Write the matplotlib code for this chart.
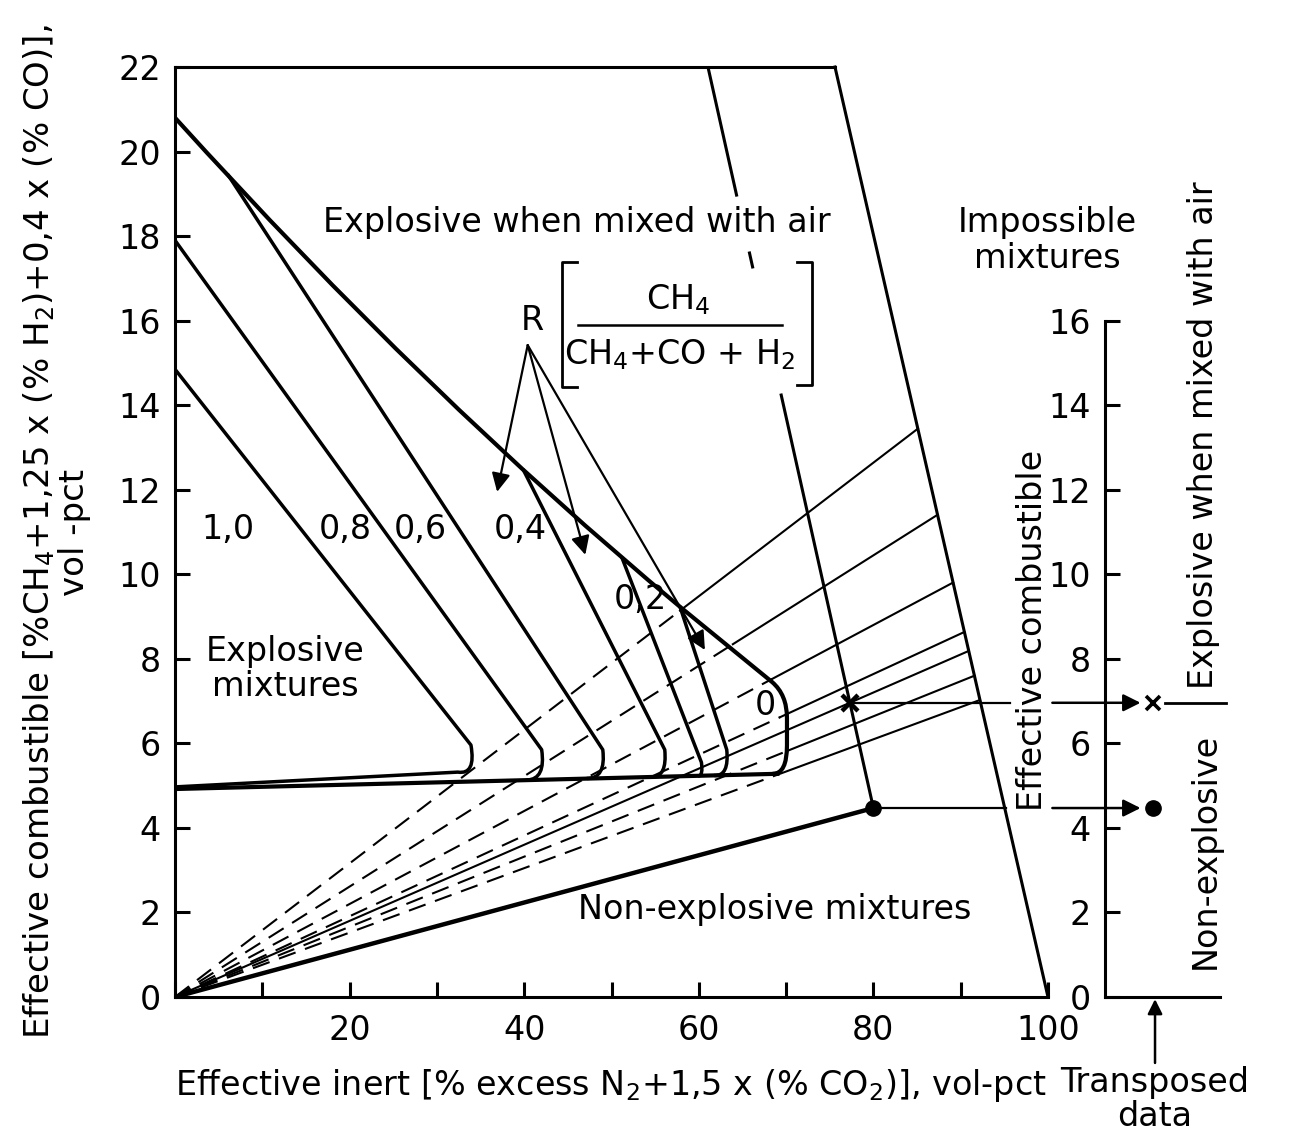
import matplotlib

matplotlib.use("Agg")
import matplotlib.pyplot as plt  # noqa: E402
import numpy as np  # noqa: E402
from matplotlib.patches import PathPatch  # noqa: E402
from matplotlib.path import Path  # noqa: E402

plt.rcParams["font.family"] = ["DejaVu Sans"]
plt.rcParams["mathtext.fontset"] = "dejavusans"

# --- limit curves for R = CH4 / (CH4 + CO + H2) --------------------------
# codes: M move, L line, Q quadratic (control, end) for the rounded knees
LOWER_LIMIT_X = [0.0, 69.0]
LOWER_LIMIT_Y = [4.92, 5.28]

CURVE_R10 = [(0.0, 14.85), (33.9, 5.96), (34.5, 5.25), (32.4, 5.32), (0.0, 4.97)]
CODES_R10 = "MLQQL"
CURVE_R08 = [(0.0, 17.9), (42.0, 5.85), (42.5, 5.15), (40.3, 5.13)]
CURVE_R06 = [(6.07, 19.45), (49.0, 5.85), (49.4, 5.17), (47.2, 5.17)]
CURVE_R04 = [(39.9, 12.47), (56.1, 5.85), (56.4, 5.2), (54.6, 5.2)]
CURVE_R03 = [(51.2, 10.39), (60.3, 5.55), (60.5, 5.24), (60.0, 5.23)]
CURVE_R02 = [(57.85, 9.23), (63.2, 5.85), (63.5, 5.22), (61.8, 5.24)]
CODES_PLAIN = "MLQQ"
CURVE_R00 = [(0.0, 20.8), (28.9, 14.2), (57.85, 9.23), (68.4, 7.45),
             (70.1, 7.15), (70.1, 6.6), (70.1, 5.95), (70.1, 5.28), (68.5, 5.28)]
CODES_R00 = "MQQLQQLQQ"

CURVE_LABELS = ["1,0", "0,8", "0,6", "0,4", "0,2", "0"]
CURVE_LABEL_X = [6.1, 19.5, 28.1, 39.5, 53.3, 67.6]
CURVE_LABEL_Y = [11.05, 11.05, 11.05, 11.05, 9.4, 6.9]

# rays from the origin (constant combustible/inert), dashed up to the R=0 curve
RAY_SLOPES = [0.158, 0.1306, 0.110, 0.0955, 0.083, 0.0762]
RAY_BREAK_X = [57.85, 63.9, 68.4, 69.3, 70.1, 69.0]

# boundary of possible mixtures and the top edge
TOP_Y = 22.0
BOUNDARY_X = [75.6, 100.0]
BOUNDARY_Y = [22.0, 0.0]

# sample gas: mixture line from the top edge to the non-explosive point
MIX_LINE_X = [61.05, 80.0]
MIX_LINE_Y = [22.0, 4.47]
MIX_LINE_GAPS = [(17.6, 18.97), (14.24, 17.27)]
POINT_X = (77.3, 6.96)      # point marked x
POINT_DOT = (80.0, 4.47)    # point marked with a dot

# transposed scale
TRANS_TICKS = [0, 2, 4, 6, 8, 10, 12, 14, 16]
TRANS_MARK_X = 0.42


def x_on_boundary(slope):
    k = (BOUNDARY_X[1] - BOUNDARY_X[0]) / BOUNDARY_Y[0]
    return BOUNDARY_X[1] / (1 + k * slope)


def draw_curve(ax, pts, codes, lw):
    table = {"M": Path.MOVETO, "L": Path.LINETO, "Q": Path.CURVE3}
    path = Path(pts, [table[c] for c in codes])
    ax.add_patch(PathPatch(path, fill=False, lw=lw, ec="black",
                           capstyle="round", joinstyle="round"))


fig = plt.figure(figsize=(13, 11.36), dpi=100)
ax = fig.add_axes([175 / 1300, 139 / 1136, 873 / 1300, 930 / 1136])
ax.set_xlim(0, 100)
ax.set_ylim(0, 22)
for side in ("top", "right"):
    ax.spines[side].set_visible(False)
for side in ("left", "bottom"):
    ax.spines[side].set_linewidth(2.2)

ax.set_xticks(np.arange(0, 101, 10))
ax.set_xticklabels(["", "", "20", "", "40", "", "60", "", "80", "", "100"])
ax.set_yticks(np.arange(0, 23, 2))
ax.tick_params(direction="in", length=11, width=2.2, labelsize=24)
ax.tick_params(axis="x", pad=12)
ax.tick_params(axis="y", pad=10)

# frame of the diagram
ax.plot([0, BOUNDARY_X[0]], [TOP_Y, TOP_Y], color="k", lw=2.2, clip_on=False)
ax.plot(BOUNDARY_X, BOUNDARY_Y, color="k", lw=2.2, clip_on=False)

# rays
for s, xb in zip(RAY_SLOPES, RAY_BREAK_X):
    ax.plot([0, xb], [0, s * xb], color="k", lw=1.5, ls=(0, (8.5, 4.8)))
    xe = x_on_boundary(s)
    ax.plot([xb, xe], [s * xb, s * xe], color="k", lw=1.5)
s_mix = POINT_X[1] / POINT_X[0]
xe = x_on_boundary(s_mix)
ax.plot([0, xe], [0, s_mix * xe], color="k", lw=1.5)
ax.plot([0, POINT_DOT[0]], [0, POINT_DOT[1]], color="k", lw=3.2,
        solid_capstyle="round")

# explosive limits
ax.plot(LOWER_LIMIT_X, LOWER_LIMIT_Y, color="k", lw=3.0)
draw_curve(ax, CURVE_R10, CODES_R10, 2.5)
for pts in (CURVE_R08, CURVE_R06, CURVE_R04, CURVE_R03, CURVE_R02):
    draw_curve(ax, pts, CODES_PLAIN, 2.5)
draw_curve(ax, CURVE_R00, CODES_R00, 3.0)
for lab, lx, ly in zip(CURVE_LABELS, CURVE_LABEL_X, CURVE_LABEL_Y):
    ax.text(lx, ly, lab, fontsize=24, ha="center", va="center")

# mixture line, broken where it crosses the text
y0, y1 = MIX_LINE_Y
x0, x1 = MIX_LINE_X
cuts = [y0] + [v for g in sorted(MIX_LINE_GAPS, reverse=True) for v in g[::-1]] + [y1]
for ya, yb in zip(cuts[::2], cuts[1::2]):
    xa = x0 + (x1 - x0) * (y0 - ya) / (y0 - y1)
    xb = x0 + (x1 - x0) * (y0 - yb) / (y0 - y1)
    ax.plot([xa, xb], [ya, yb], color="k", lw=2.2)

ax.plot(*POINT_X, marker="x", ms=12, mew=3.2, color="k")
ax.plot(*POINT_DOT, marker="o", ms=11, color="k")

# carry both points over to the transposed scale
for (px, py), xend in ((POINT_X, 95.6), (POINT_DOT, 95.2)):
    ax.plot([px, xend], [py, py], color="k", lw=1.6, clip_on=False)
    ax.annotate("", xy=(110.6, py), xytext=(100.5, py), annotation_clip=False,
                arrowprops=dict(arrowstyle="-|>", lw=1.8, color="k",
                                mutation_scale=26, shrinkA=0, shrinkB=0))

# R legend with arrows
R_TAIL = (40.4, 15.42)
R_HEADS = [(36.9, 11.95), (47.0, 10.46), (60.7, 8.21)]
ax.text(40.9, 16.0, "R", fontsize=24, ha="center", va="center")
for hx, hy in R_HEADS:
    ax.annotate("", xy=(hx, hy), xytext=R_TAIL,
                arrowprops=dict(arrowstyle="-|>", lw=1.6, color="k",
                                mutation_scale=28, shrinkA=0, shrinkB=0))
ax.text(57.6, 16.5, "CH$_4$", fontsize=24, ha="center", va="center")
ax.text(57.8, 15.2, "CH$_4$+CO + H$_2$", fontsize=24, ha="center", va="center")
ax.plot([46.2, 69.5], [15.9, 15.9], color="k", lw=1.8)
ax.plot([46.05, 44.33, 44.33, 46.05], [17.39, 17.39, 14.43, 14.43], color="k", lw=2.0)
ax.plot([71.25, 72.97, 72.97, 71.25], [17.39, 17.39, 14.47, 14.47], color="k", lw=2.0)

# region names
ax.text(46.0, 18.33, "Explosive when mixed with air", fontsize=24,
        ha="center", va="center")
ax.text(99.9, 17.9, "Impossible\nmixtures", fontsize=24, ha="center",
        va="center", linespacing=1.1)
ax.text(12.6, 7.76, "Explosive\nmixtures", fontsize=24, ha="center",
        va="center", linespacing=1.1)
ax.text(68.7, 2.06, "Non-explosive mixtures", fontsize=24, ha="center",
        va="center")

fig.text(56 / 1300, 1 - 532 / 1136,
         "Effective combustible [%CH$_4$+1,25 x (% H$_2$)+0,4 x (% CO)],\nvol -pct",
         rotation=90, fontsize=24.5, ha="center", va="center",
         multialignment="center", linespacing=1.05)
fig.text(611 / 1300, 1 - 1085 / 1136,
         "Effective inert [% excess N$_2$+1,5 x (% CO$_2$)], vol-pct",
         fontsize=24, ha="center", va="center")

# transposed data scale
ax2 = fig.add_axes([1105 / 1300, 139 / 1136, 115 / 1300, 676.3 / 1136])
ax2.set_xlim(0, 1)
ax2.set_ylim(0, 16)
ax2.patch.set_visible(False)
for side in ("top", "right"):
    ax2.spines[side].set_visible(False)
for side in ("left", "bottom"):
    ax2.spines[side].set_linewidth(2.2)
ax2.set_xticks([])
ax2.set_yticks(TRANS_TICKS)
ax2.tick_params(direction="in", length=11, width=2.2, labelsize=24, pad=10)
ax2.plot(TRANS_MARK_X, POINT_X[1], marker="x", ms=10, mew=2.6, color="k",
         clip_on=False)
ax2.plot(TRANS_MARK_X, POINT_DOT[1], marker="o", ms=11, color="k",
         clip_on=False)
ax2.plot([0.52, 1.05], [POINT_X[1], POINT_X[1]], color="k", lw=2.0,
         clip_on=False)
ax2.annotate("", xy=(0.435, -0.05), xytext=(0.435, -1.56),
             annotation_clip=False,
             arrowprops=dict(arrowstyle="-|>", lw=1.8, color="k",
                             mutation_scale=22, shrinkA=0, shrinkB=0))
ax2.text(0.435, -2.42, "Transposed\ndata", fontsize=24, ha="center",
         va="center", linespacing=1.05)
ax2.text(-0.63, 8.68, "Effective combustible", rotation=90, fontsize=24,
         ha="center", va="center")
ax2.text(0.86, 13.3, "Explosive when mixed with air", rotation=90,
         fontsize=24, ha="center", va="center")
ax2.text(0.87, 3.45, "Non-explosive", rotation=90, fontsize=24,
         ha="center", va="center")

fig.savefig("out.png", dpi=100)
